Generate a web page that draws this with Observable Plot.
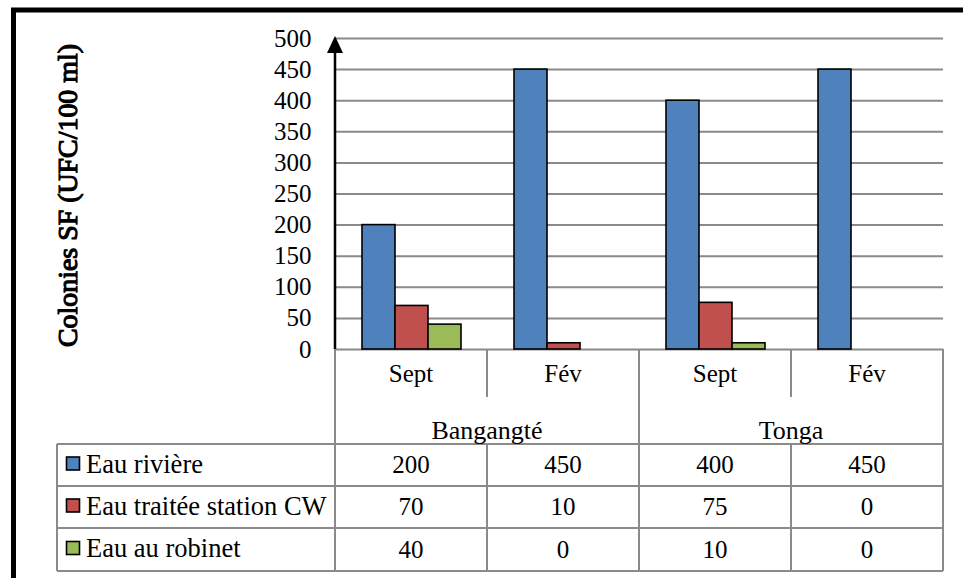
<!DOCTYPE html>
<html>
<head>
<meta charset="utf-8">
<script src="https://cdn.jsdelivr.net/npm/d3@7"></script>
<script src="https://cdn.jsdelivr.net/npm/@observablehq/plot@0.6"></script>
<style>
  html, body { margin: 0; padding: 0; background: #fff; }
  #chart svg { display: block; }
</style>
</head>
<body>
<div id="chart"></div>
<script>
// ---- data ----
const sites = ["Bangangté", "Bangangté", "Tonga", "Tonga"];
const months = ["Sept", "Fév", "Sept", "Fév"];
const seriesNames = ["Eau rivière", "Eau traitée station CW", "Eau au robinet"];
const eauRiviere = [200, 450, 400, 450];
const eauTraitee = [70, 10, 75, 0];
const eauRobinet = [40, 0, 10, 0];
const seriesColors = ["#4f81bd", "#c0504d", "#9bbb59"];
const yTicks = [0, 50, 100, 150, 200, 250, 300, 350, 400, 450, 500];
const yTitle = "Colonies SF (UFC/100 ml)";

const seriesValues = [eauRiviere, eauTraitee, eauRobinet];
const periodKeys = sites.map((s, i) => s + " | " + months[i]);
const rows = [];
periodKeys.forEach((p, i) => {
  seriesNames.forEach((s, j) => rows.push({period: p, series: s, value: seriesValues[j][i]}));
});

const W = 963, H = 578;
const FONT = "'Liberation Serif', 'Times New Roman', serif";
const GRID = "#8a8a8a";

const plot = Plot.plot({
  width: W,
  height: H,
  marginLeft: 335,
  marginRight: 20,
  marginTop: 38,
  marginBottom: 229,
  style: {fontFamily: FONT, fontSize: "25px", background: "white", color: "black"},
  fx: {domain: periodKeys, padding: 0, axis: null, label: null},
  x: {domain: seriesNames, paddingInner: 0, paddingOuter: 0.75, axis: null, label: null},
  y: {domain: [0, 500], axis: null, label: null},
  color: {domain: seriesNames, range: seriesColors},
  marks: [
    Plot.ruleY(yTicks, {y: d => d, stroke: GRID, strokeWidth: 2}),
    Plot.barY(rows.filter(d => d.value > 0), {
      fx: "period", x: "series", y: "value", fill: "series",
      stroke: "black", strokeWidth: 1.6
    }),
    Plot.text(yTicks, {
      fx: () => periodKeys[0], y: d => d, text: d => String(d),
      frameAnchor: "left", textAnchor: "end", dx: -24,
      fontSize: 25, fill: "black"
    })
  ]
});

document.getElementById("chart").appendChild(plot);

// ---- table, axis line, frame drawn with the Plot scales ----
const svg = d3.select(plot);
const fx = plot.scale("fx");
const y = plot.scale("y");
const bw = fx.bandwidth != null ? fx.bandwidth : (fx.range[1] - fx.range[0]) / periodKeys.length;
const x0 = fx.apply(periodKeys[0]);
const colLeft = periodKeys.map(p => fx.apply(p));
const xEnd = colLeft[colLeft.length - 1] + bw;
const yBase = y.apply(0);
const yTop = y.apply(500);

const rowH1 = 48, rowH2 = 47, dataRowH = [42, 42, 43];
const yRow1 = yBase + rowH1;            // bottom of month row
const yRow2 = yRow1 + rowH2;            // bottom of site row
const dataTops = [yRow2];
dataRowH.forEach((h, i) => dataTops.push(dataTops[i] + h));
const legendLeft = 57;

const g = svg.append("g").attr("fill", "none").attr("stroke", GRID).attr("stroke-width", 2);
const line = (x1, y1, x2, y2) => g.append("line").attr("x1", x1).attr("y1", y1).attr("x2", x2).attr("y2", y2);

// outer verticals of category area
line(x0, yBase, x0, dataTops[3]);
line(xEnd, yBase, xEnd, dataTops[3]);
// site separators
const siteUnique = [...new Set(sites)];
siteUnique.forEach((s, k) => {
  if (k === 0) return;
  const idx = sites.indexOf(s);
  line(colLeft[idx], yBase, colLeft[idx], dataTops[3]);
});
// month separators (within sites), in month row and data rows
periodKeys.forEach((p, i) => {
  if (i === 0) return;
  if (sites[i] !== sites[i - 1]) return;
  line(colLeft[i], yBase, colLeft[i], yRow1);
  line(colLeft[i], dataTops[0], colLeft[i], dataTops[3]);
});
// data table horizontals
dataTops.forEach(t => line(legendLeft, t, xEnd, t));
line(legendLeft, dataTops[0], legendLeft, dataTops[3]);

const tg = svg.append("g").attr("font-family", FONT).attr("font-size", 25).attr("fill", "black");
// month labels
periodKeys.forEach((p, i) => {
  tg.append("text").attr("x", colLeft[i] + bw / 2).attr("y", yBase + 33)
    .attr("text-anchor", "middle").text(months[i]);
});
// site labels
siteUnique.forEach(s => {
  const idxs = sites.map((v, i) => v === s ? i : -1).filter(i => i >= 0);
  const a = colLeft[idxs[0]], b = colLeft[idxs[idxs.length - 1]] + bw;
  tg.append("text").attr("x", (a + b) / 2).attr("y", yRow1 + 42)
    .attr("font-size", 26).attr("text-anchor", "middle").text(s);
});
// data rows
seriesNames.forEach((s, j) => {
  const top = dataTops[j], h = dataRowH[j];
  const cy = top + h / 2;
  svg.append("rect").attr("x", 66.5).attr("y", cy - 8).attr("width", 13).attr("height", 13)
    .attr("fill", seriesColors[j]).attr("stroke", "black").attr("stroke-width", 1.6);
  tg.append("text").attr("x", 86).attr("y", cy + 7.5)
    .attr("font-size", 26.5).attr("text-anchor", "start").text(s);
  periodKeys.forEach((p, i) => {
    tg.append("text").attr("x", colLeft[i] + bw / 2).attr("y", cy + 8)
      .attr("text-anchor", "middle").text(String(seriesValues[j][i]));
  });
});

// y axis line with arrow
svg.append("line").attr("x1", x0).attr("x2", x0).attr("y1", yBase).attr("y2", yTop + 8)
  .attr("stroke", "black").attr("stroke-width", 2.5);
svg.append("path")
  .attr("d", `M${x0},${yTop - 2} L${x0 - 8},${yTop + 15} L${x0 + 8},${yTop + 15} Z`)
  .attr("fill", "black");

// y axis title (serif, emboldened with a thin stroke)
svg.append("text")
  .attr("transform", `translate(77,${(yBase + yTop) / 2 + 2}) rotate(-90)`)
  .attr("text-anchor", "middle")
  .attr("font-family", FONT).attr("font-weight", "normal").attr("font-size", 27)
  .attr("fill", "black").attr("stroke", "black").attr("stroke-width", 1.1)
  .attr("textLength", 303).attr("lengthAdjust", "spacingAndGlyphs")
  .text(yTitle);

// outer frame (top and left edges)
svg.append("path").attr("d", `M13.5,${H} L13.5,10 L${W},10`)
  .attr("fill", "none").attr("stroke", "black").attr("stroke-width", 5);
</script>
</body>
</html>
